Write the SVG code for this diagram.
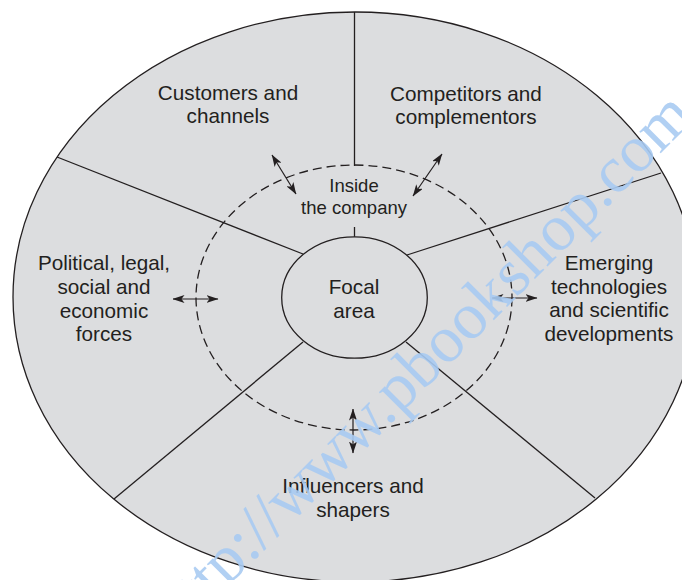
<svg xmlns="http://www.w3.org/2000/svg" width="682" height="580" viewBox="0 0 682 580">
<defs>
<style>
.lbl{font-family:"Liberation Sans",Arial,sans-serif;font-size:20.7px;fill:#231f20;text-anchor:middle}
.in{font-size:18.5px}
.ln{stroke:#231f20;stroke-width:1.3;fill:none}
.arr{stroke:#231f20;stroke-width:1.2;fill:none;marker-start:url(#ah);marker-end:url(#ah)}
.wm{font-family:"Liberation Serif","Times New Roman",serif;font-size:66px;fill:#a9cbf2;opacity:0.9}
</style>
<marker id="ah" viewBox="0 0 12 8" refX="11.5" refY="4" markerWidth="12" markerHeight="8" markerUnits="userSpaceOnUse" orient="auto-start-reverse">
<path d="M0,0 L12,4 L0,8 L3,4 z" fill="#231f20"/>
</marker>
</defs>
<rect width="682" height="580" fill="#ffffff"/>
<g id="outer">
<ellipse cx="355" cy="297" rx="342" ry="285" fill="#dcdddf" stroke="#231f20" stroke-width="1.3"/>
</g>
<g id="connectors">
<line class="ln" x1="354.5" y1="12" x2="354.5" y2="166"/>
<line class="ln" x1="354.5" y1="227" x2="354.5" y2="237"/>
<line class="ln" x1="57" y1="157" x2="303" y2="254"/>
<line class="ln" x1="661" y1="173" x2="407" y2="255"/>
<line class="ln" x1="303" y1="342" x2="114" y2="499"/>
<line class="ln" x1="406" y1="342" x2="595" y2="498"/>
<ellipse cx="354" cy="297.5" rx="158" ry="132.5" class="ln" stroke-dasharray="9 5"/>
<line class="arr" x1="272" y1="155" x2="296" y2="194"/>
<line class="arr" x1="442" y1="154" x2="413" y2="196"/>
<line class="arr" x1="173" y1="299" x2="218" y2="299"/>
<line class="arr" x1="492" y1="298" x2="537" y2="298"/>
<line class="arr" x1="353" y1="409" x2="353" y2="453"/>
</g>
<g id="focal">
<ellipse cx="354.5" cy="297.5" rx="72.8" ry="60.7" fill="#dcdddf" stroke="#231f20" stroke-width="1.3"/>
<text class="lbl" x="354" y="294">Focal</text>
<text class="lbl" x="354" y="318">area</text>
</g>
<g id="inside">
<text class="lbl in" x="354" y="192">Inside</text>
<text class="lbl in" x="354" y="214">the company</text>
</g>
<g id="customers">
<text class="lbl" x="228" y="100">Customers and</text>
<text class="lbl" x="228" y="123">channels</text>
</g>
<g id="competitors">
<text class="lbl" x="466" y="101">Competitors and</text>
<text class="lbl" x="466" y="124">complementors</text>
</g>
<g id="political">
<text class="lbl" x="104" y="270">Political, legal,</text>
<text class="lbl" x="104" y="293.5">social and</text>
<text class="lbl" x="104" y="317.5">economic</text>
<text class="lbl" x="104" y="341">forces</text>
</g>
<g id="emerging">
<text class="lbl" x="609" y="270">Emerging</text>
<text class="lbl" x="609" y="293.5">technologies</text>
<text class="lbl" x="609" y="317">and scientific</text>
<text class="lbl" x="609" y="341">developments</text>
</g>
<g id="influencers">
<text class="lbl" x="353" y="493">Influencers and</text>
<text class="lbl" x="353" y="517">shapers</text>
</g>
<g id="watermark">
<text class="wm" transform="translate(178,636) rotate(-45)">http://www.pbookshop.com</text>
</g>
</svg>
